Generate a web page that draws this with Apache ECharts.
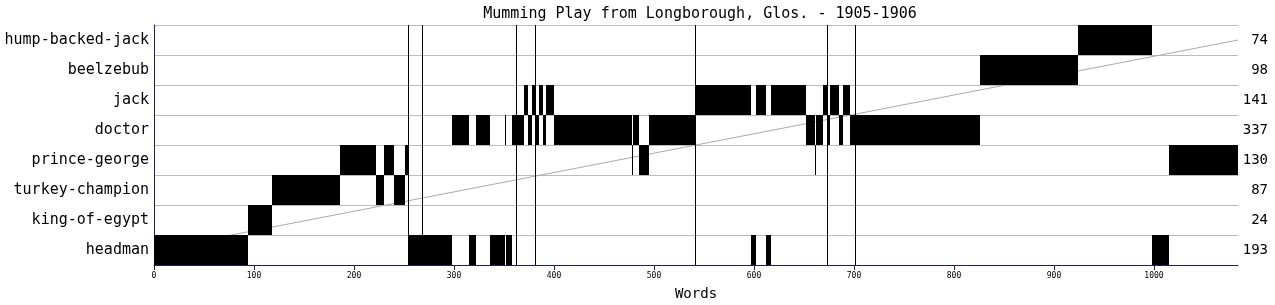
<!DOCTYPE html>
<html><head><meta charset="utf-8">
<script src="https://cdn.jsdelivr.net/npm/echarts@6/dist/echarts.min.js"></script>
<style>html,body{margin:0;padding:0;background:#fff}#c{width:1275px;height:305px}</style>
</head><body><div id="c"></div>
<script>
// categories bottom -> top
const characters = ['headman','king-of-egypt','turkey-champion','prince-george','doctor','jack','beelzebub','hump-backed-jack'];
// word counts shown on the right (same order)
const wordCounts = [193, 24, 87, 130, 337, 141, 98, 74];
// speech segments [startWord, endWord]
const headman = [[0,94],[254,298],[315,322],[336,351],[352,358],[597,602],[612,617],[998,1015]];
const kingOfEgypt = [[94,118]];
const turkeyChampion = [[118,186],[222,230],[240,251]];
const princeGeorge = [[186,222],[230,240],[251,254],[478,479],[485,495],[661,662],[1015,1084]];
const doctor = [[298,315],[322,336],[351,352],[358,370],[374,378],[382,385],[389,392],[400,478],[479,485],[495,541],[652,661],[662,669],[673,676],[685,689],[696,826]];
const jack = [[370,374],[378,382],[385,389],[392,400],[541,597],[602,612],[617,652],[669,673],[676,685],[689,696]];
const beelzebub = [[826,924]];
const humpBackedJack = [[924,998]];
// scene breaks (word positions)
const sceneBreaks = [254, 268, 362, 381, 541, 673, 701];
// reference diagonal: first speaker at word 0 to last speaker at final word
const trendLine = [[0,'headman'],[1084,'hump-backed-jack']];
const totalWords = 1084;
const xTicks = [0,100,200,300,400,500,600,700,800,900,1000];

const segmentsByChar = [headman, kingOfEgypt, turkeyChampion, princeGeorge, doctor, jack, beelzebub, humpBackedJack];
const segData = [];
segmentsByChar.forEach((segs, ci) => segs.forEach(s => segData.push([s[0], s[1], ci])));
const trendData = trendLine.map(p => [p[0], characters.indexOf(p[1])]);

const FONT = 'DejaVu Sans Mono';
const AXIS = '#20205a';

const chart = echarts.init(document.getElementById('c'), null, {renderer:'canvas'});
chart.setOption({
  animation: false,
  backgroundColor: '#fff',
  title: {
    text: 'Mumming Play from Longborough, Glos. - 1905-1906',
    left: 695, top: 2, textAlign: 'center',
    textStyle: {fontFamily: FONT, fontSize: 15, fontWeight: 'normal', color: '#000'}
  },
  grid: {left: 154, right: 37, top: 25, bottom: 40, containLabel: false, outerBoundsMode: 'none'},
  xAxis: {
    type: 'value', min: 0, max: totalWords, interval: 100,
    name: 'Words', nameLocation: 'middle', nameGap: 22,
    nameTextStyle: {fontFamily: FONT, fontSize: 14, color: '#000'},
    axisLine: {show: true, lineStyle: {color: AXIS, width: 1}},
    axisTick: {show: true, length: 5, lineStyle: {color: AXIS}},
    axisLabel: {fontFamily: FONT, fontSize: 8, color: '#000', margin: 7, showMaxLabel: false,
      formatter: v => xTicks.indexOf(v) >= 0 ? String(v) : ''},
    splitLine: {show: false}
  },
  yAxis: [{
    type: 'category', data: characters,
    axisLine: {show: true, lineStyle: {color: AXIS, width: 1}},
    axisTick: {show: false},
    axisLabel: {fontFamily: FONT, fontSize: 15, color: '#000', margin: 5},
    splitLine: {show: true, lineStyle: {color: '#bbbbbb', width: 1}}
  }, {
    type: 'category', data: characters, position: 'right',
    axisLine: {show: false}, axisTick: {show: false},
    axisLabel: {fontFamily: FONT, fontSize: 14, color: '#000', margin: 30, align: 'right',
      formatter: (v, i) => String(wordCounts[i])},
    splitLine: {show: false}
  }],
  series: [{
    type: 'line', data: trendData, yAxisIndex: 0, symbol: 'none', silent: true, z: 1,
    lineStyle: {color: '#aaaaaa', width: 1}
  }, {
    type: 'custom', data: segData, yAxisIndex: 0, z: 2, silent: true,
    encode: {x: [0, 1], y: 2},
    renderItem: function (params, api) {
      const ci = api.value(2);
      const s = api.coord([api.value(0), ci]);
      const e = api.coord([api.value(1), ci]);
      const h = api.size([0, 1])[1];
      return {type: 'rect', shape: {x: s[0], y: s[1] - h / 2, width: Math.max(e[0] - s[0], 1), height: h},
        style: {fill: '#000'}};
    }
  }, {
    type: 'custom', data: sceneBreaks.map(v => [v, 0]), yAxisIndex: 0, z: 3, silent: true,
    encode: {x: 0, y: 1},
    renderItem: function (params, api) {
      const cs = params.coordSys;
      const x = Math.round(api.coord([api.value(0), 0])[0]) + 0.5;
      return {type: 'line', shape: {x1: x, y1: cs.y, x2: x, y2: cs.y + cs.height},
        style: {stroke: '#000', lineWidth: 1}};
    }
  }]
});
</script></body></html>
